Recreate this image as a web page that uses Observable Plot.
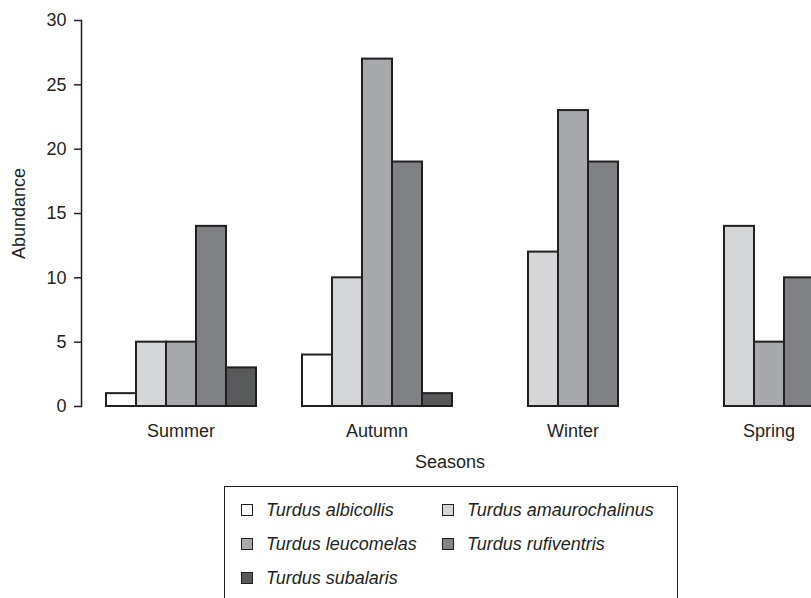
<!DOCTYPE html>
<html>
<head>
<meta charset="utf-8">
<script src="https://cdn.jsdelivr.net/npm/d3@7"></script>
<script src="https://cdn.jsdelivr.net/npm/@observablehq/plot@0.6"></script>
<style>
  body { margin: 0; background: #fff; }
  #wrap { position: relative; width: 811px; height: 598px; overflow: hidden; background: #fff;
          font-family: "Liberation Sans", Arial, sans-serif; color: #231f20; }
  #chart svg { max-width: none !important; display: block; }
  #xlabel { position: absolute; left: 450px; top: 452px; transform: translateX(-50%);
            font-size: 18px; line-height: 21px; white-space: nowrap; }
  #legend { position: absolute; left: 224px; top: 486px; width: 454px; height: 150px;
            box-sizing: border-box; border: 1.5px solid #231f20; padding: 6px 0 0 16px;
            display: grid; grid-template-columns: 201px auto; grid-auto-rows: 34px; align-items: center; }
  .item { display: flex; align-items: center; font-size: 18px; font-style: italic; white-space: nowrap; }
  .sw { width: 10px; height: 10px; border: 1.5px solid #231f20; margin-right: 13px; flex: none; }
</style>
</head>
<body>
<div id="wrap">
  <div id="chart"></div>
  <div id="xlabel">Seasons</div>
  <div id="legend"></div>
</div>
<script>
const seasons = ["Summer", "Autumn", "Winter", "Spring"];
const species = ["Turdus albicollis", "Turdus amaurochalinus", "Turdus leucomelas", "Turdus rufiventris", "Turdus subalaris"];
const albicollis     = [1, 4, 0, 0];
const amaurochalinus = [5, 10, 12, 14];
const leucomelas     = [5, 27, 23, 5];
const rufiventris    = [14, 19, 19, 10];
const subalaris      = [3, 1, 0, 0];
const colors = ["#ffffff", "#d4d5d7", "#a8a9ac", "#808184", "#58595b"];
const yTicks = [0, 5, 10, 15, 20, 25, 30];

const series = [albicollis, amaurochalinus, leucomelas, rufiventris, subalaris];
const data = [];
series.forEach((vals, i) => vals.forEach((v, j) => {
  if (v > 0) data.push({season: seasons[j], species: species[i], value: v});
}));

const chart = Plot.plot({
  width: 866,
  height: 480,
  marginTop: 20,
  marginBottom: 74,
  marginLeft: 81,
  marginRight: 0,
  style: {fontFamily: "'Liberation Sans', Arial, sans-serif", fontSize: "18px", color: "#231f20", background: "#fff"},
  fx: {domain: seasons, range: [104, 845], paddingInner: 0.2194, paddingOuter: 0, label: null},
  x: {domain: species, axis: null, padding: 0},
  y: {domain: [0, 30]},
  color: {domain: species, range: colors},
  marks: [
    Plot.barY(data, {fx: "season", x: "species", y: "value", fill: "species", stroke: "#231f20", strokeWidth: 2}),
    Plot.axisFx({anchor: "bottom", tickSize: 0, tickPadding: 18, fontSize: 18, label: null}),
    Plot.axisY({anchor: "left", ticks: yTicks, tickSize: 7, tickPadding: 8, dx: -23, fontSize: 18,
                label: "Abundance", labelAnchor: "center", labelArrow: "none", labelOffset: 92, strokeWidth: 1.5}),
    Plot.frame({anchor: "left", facetAnchor: "left", dx: -23, strokeWidth: 1.5, stroke: "#231f20"})
  ]
});
document.getElementById("chart").append(chart);

const legend = d3.select("#legend");
species.forEach((s, i) => {
  const it = legend.append("div").attr("class", "item");
  it.append("div").attr("class", "sw").style("background", colors[i]);
  it.append("span").text(s);
});
</script>
</body>
</html>
